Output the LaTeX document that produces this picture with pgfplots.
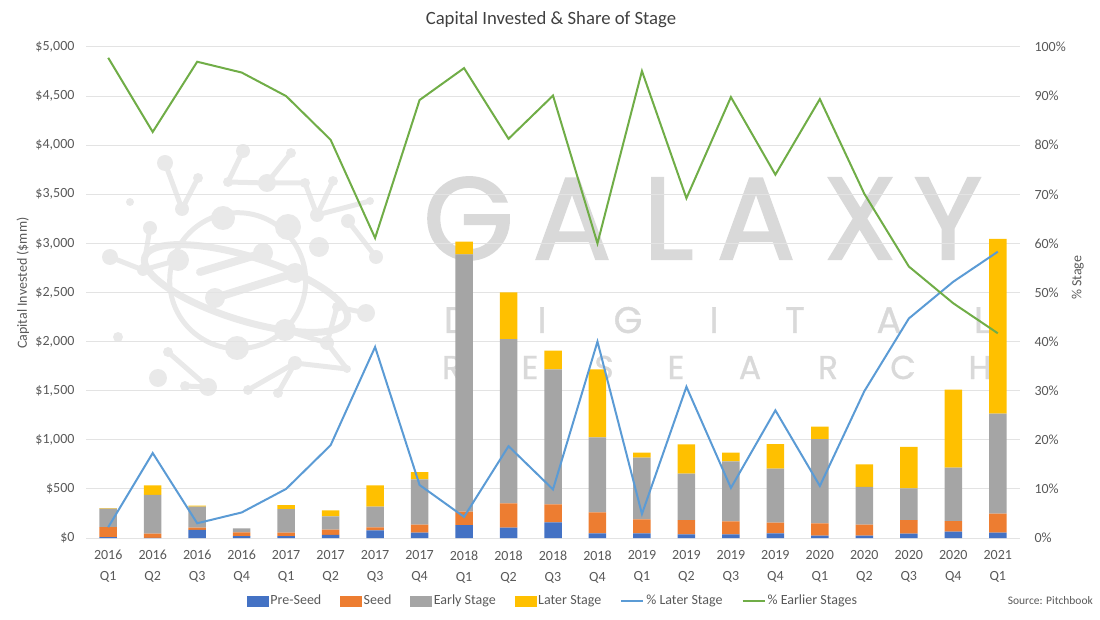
\documentclass[border=0pt]{standalone}
\usepackage{pgfplots}
\pgfplotsset{compat=1.18}
\usepackage{pgfplotstable}
\usepackage{fontspec}
\setmainfont{Carlito}
\newfontfamily\wm[FakeBold=2]{Poppins}
\newfontfamily\wms[FakeBold=1]{Poppins}
\definecolor{c1}{HTML}{4472C4}
\definecolor{c2}{HTML}{ED7D31}
\definecolor{c3}{HTML}{A5A5A5}
\definecolor{c4}{HTML}{FFC000}
\definecolor{c5}{HTML}{5B9BD5}
\definecolor{c6}{HTML}{70AD47}
\definecolor{gridc}{HTML}{E3E3E3}
\definecolor{txt}{HTML}{595959}
\definecolor{wmc}{HTML}{D9D9D9}
\definecolor{logoc}{HTML}{E9E9E9}
\pgfplotstableread{
x pre seed early later lat ear
0 10 100 190 5 2.2 97.8
1 2 42 394 98 17.3 82.7
2 82 23 214 10 3.0 97.0
3 20 38 40 0 5.2 94.8
4 20 34 241 41 10.0 90.0
5 31 54 136 61 18.9 81.1
6 78 31 210 218 38.9 61.1
7 54 82 462 74 10.8 89.2
8 132 136 2621 128 4.3 95.7
9 105 248 1673 476 18.7 81.3
10 160 183 1375 190 9.9 90.1
11 48 214 763 693 40.0 60.0
12 48 142 628 51 4.9 95.1
13 38 145 472 299 30.8 69.2
14 38 132 611 88 10.2 89.8
15 48 108 550 251 26.0 74.0
16 24 126 858 126 10.6 89.4
17 24 112 384 231 29.9 70.1
18 44 139 323 421 44.7 55.3
19 64 109 543 795 52.2 47.8
20 55 192 1019 1779 58.3 41.7
}\data
\newcommand{\tfont}{\fontsize{14}{21}\selectfont}
\begin{document}
\begin{tikzpicture}
\useasboundingbox (0,0) rectangle (1100pt,619pt);
% watermark (px coordinates, y downward)
\begin{scope}[x=1pt,y=-1pt,shift={(0,-619)}]
\begin{scope}[logoc, line width=5pt, line cap=round]
\draw (237.7,280.7) circle (68);
\draw (165,163)--(182,209)--(198,178);
\draw (243,151)--(228,182);
\draw (228,182)--(267,183)--(305,183)--(317,215)--(333,181);
\draw (267,183)--(291,153);
\draw (317,215)--(370,201);
\draw (348,221)--(376,257);
\draw (150,228)--(143,270)--(110,257);
\draw (143,270)--(178,260);
\draw (337,307)--(366,313);
\draw (337,307)--(327,343)--(347,369);
\draw (327,343)--(285,330);
\draw (295,363)--(347,369);
\draw (295,363)--(248,390);
\draw (295,363)--(278,393);
\draw (208,387)--(168,352);
\draw (208,387)--(185,386);
\draw[line width=8pt] (200,272)--(263,253);
\draw[line width=8pt] (215,298)--(295,273);
\foreach \a/\b/\r in {223/218/12,288/227/13,178/260/11,263/253/10,295/273/10,215/298/10,285/330/11,237/348/12,319/247/10,
165/163/8,182/209/7,198/178/5,243/151/7,228/182/5,267/183/9,291/153/5,305/183/5,333/181/5,317/215/7,370/201/4,348/221/7,376/257/7,
130/202/4,150/228/7,110/257/8,143/270/6,337/307/5,366/313/9,327/343/7,347/369/4,295/363/7,248/390/5,278/393/5,208/387/9,185/386/5,158/378/9,168/352/5,118/337/5}
  \fill (\a,\b) circle (\r);
\end{scope}
\draw[logoc, line width=7pt, rotate around={-17.3:(246,288.5)}] (246,288.5) ellipse [x radius=106, y radius=32];
\begin{scope}[wmc]
\foreach \c/\xx in {G/468.5,A/572,L/668.5,A/756,X/860,Y/948}
  \node[anchor=base, inner sep=0pt, font=\wm\fontsize{116}{116}\selectfont] at (\xx,259) {\c};
\foreach \c/\xx in {D/457,I/542,G/628,I/714,T/795,A/889,L/982}
  \node[anchor=base, inner sep=0pt, font=\wms\fontsize{37}{37}\selectfont] at (\xx,333) {\c};
\foreach \c/\xx in {R/452,E/530,S/604,E/676,A/750,R/828,C/903,H/980}
  \node[anchor=base, inner sep=0pt, font=\wms\fontsize{33}{33}\selectfont] at (\xx,379) {\c};
\end{scope}
\node[font=\fontsize{18.7}{22}\selectfont, text=black!75] at (551,20) {Capital Invested \& Share of Stage};
\node[anchor=east, font=\fontsize{11.5}{13}\selectfont, text=txt, inner sep=0pt] at (1093,601) {Source: Pitchbook};
\end{scope}
\begin{axis}[
  at={(86pt,81pt)}, anchor=south west, scale only axis, width=934pt, height=491pt,
  xmin=-0.5, xmax=20.5, ymin=0, ymax=5000,
  ybar stacked, bar width=17.5pt,
  xtick={0,...,20},
  xticklabels={{2016\\Q1},{2016\\Q2},{2016\\Q3},{2016\\Q4},{2017\\Q1},{2017\\Q2},{2017\\Q3},{2017\\Q4},{2018\\Q1},{2018\\Q2},{2018\\Q3},{2018\\Q4},{2019\\Q1},{2019\\Q2},{2019\\Q3},{2019\\Q4},{2020\\Q1},{2020\\Q2},{2020\\Q3},{2020\\Q4},{2021\\Q1}},
  xticklabel style={align=center, yshift=-9pt},
  ytick={0,500,...,5000},
  yticklabels={{\$0},{\$500},{\$1,000},{\$1,500},{\$2,000},{\$2,500},{\$3,000},{\$3,500},{\$4,000},{\$4,500},{\$5,000}},
  yticklabel style={xshift=-8pt},
  ymajorgrids, grid style={color=gridc, line width=1pt},
  axis line style={draw=none}, major tick length=0pt,
  tick label style={font=\tfont, text=txt},
  ylabel={Capital Invested (\$mm)},
  ylabel style={at={(axis description cs:-0.0675,0.519)}, anchor=center, font=\tfont, text=txt},
]
\addplot[fill=c1, draw=none] table[x=x,y=pre]{\data};
\addplot[fill=c2, draw=none] table[x=x,y=seed]{\data};
\addplot[fill=c3, draw=none] table[x=x,y=early]{\data};
\addplot[fill=c4, draw=none] table[x=x,y=later]{\data};
\end{axis}
\begin{axis}[
  at={(86pt,81pt)}, anchor=south west, scale only axis, width=934pt, height=491pt,
  xmin=-0.5, xmax=20.5, ymin=0, ymax=100,
  axis x line=none, axis y line*=right, axis line style={draw=none}, major tick length=0pt,
  ytick={0,10,...,100},
  yticklabels={0\%,10\%,20\%,30\%,40\%,50\%,60\%,70\%,80\%,90\%,100\%},
  yticklabel style={xshift=11pt},
  tick label style={font=\tfont, text=txt},
  ylabel={\% Stage},
  ylabel style={at={(axis description cs:1.062,0.53)}, anchor=center, font=\tfont, text=txt},
  legend style={at={(axis description cs:0.5,-0.128)}, anchor=center, draw=none, fill=none, font=\tfont, text=txt,
    legend columns=6, /tikz/every even column/.append style={column sep=17pt}},
]
\addlegendimage{legend image code/.code={\fill[c1] (0pt,-5pt) rectangle (21pt,5pt);}}
\addlegendentry{Pre-Seed}
\addlegendimage{legend image code/.code={\fill[c2] (0pt,-5pt) rectangle (21pt,5pt);}}
\addlegendentry{Seed}
\addlegendimage{legend image code/.code={\fill[c3] (0pt,-5pt) rectangle (21pt,5pt);}}
\addlegendentry{Early Stage}
\addlegendimage{legend image code/.code={\fill[c4] (0pt,-5pt) rectangle (21pt,5pt);}}
\addlegendentry{Later Stage}
\addplot[c5, line width=2pt, legend image code/.code={\draw[c5,line width=2pt] (0pt,0pt)--(22pt,0pt);}] table[x=x,y=lat]{\data};
\addlegendentry{\% Later Stage}
\addplot[c6, line width=2pt, legend image code/.code={\draw[c6,line width=2pt] (0pt,0pt)--(22pt,0pt);}] table[x=x,y=ear]{\data};
\addlegendentry{\% Earlier Stages}
\end{axis}
\end{tikzpicture}
\end{document}
